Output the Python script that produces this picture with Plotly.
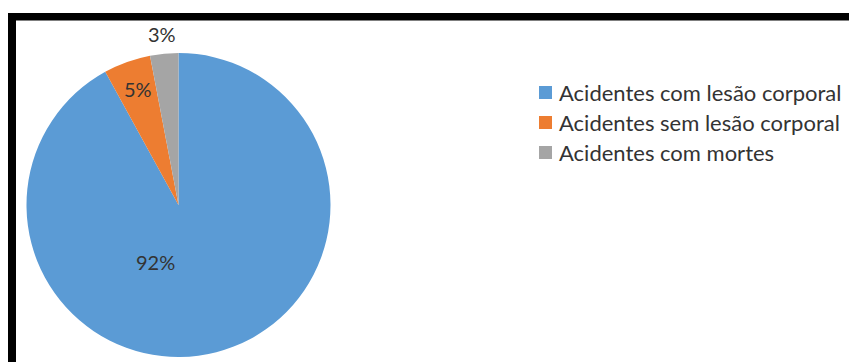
import plotly.graph_objects as go

# Accident categories and their share of the total (%)
categories = [
    "Acidentes com lesão corporal",
    "Acidentes sem lesão corporal",
    "Acidentes com mortes",
]
shares = [92, 5, 3]
colors = ["#5B9BD5", "#ED7D31", "#A5A5A5"]
# where each percentage label sits (pixel centre)
label_xy = [(155, 262), (137.5, 88.5), (162, 34)]

W, H = 849, 362
FONT = "Lato"
TEXT_COLOR = "#333333"


def px_x(x):
    return x / W


def px_y(y):
    return 1 - y / H


# pie circle: centre (178.5, 205), radius 152 (pixels)
cx, cy, r = 178.5, 205, 152

fig = go.Figure(
    go.Pie(
        labels=categories,
        values=shares,
        marker=dict(colors=colors, line=dict(width=0)),
        sort=False,
        direction="clockwise",
        rotation=0,
        textinfo="none",
        domain=dict(x=[px_x(cx - r), px_x(cx + r)], y=[px_y(cy + r), px_y(cy - r)]),
        showlegend=False,
        hoverinfo="label+percent",
    )
)

total = sum(shares)
shapes = []
annotations = []

# percentage labels
for v, (lx, ly) in zip(shares, label_xy):
    annotations.append(dict(
        xref="paper", yref="paper", x=px_x(lx), y=px_y(ly),
        xanchor="center", yanchor="middle", showarrow=False,
        text=f"{v / total * 100:.0f}%",
        font=dict(family=FONT, size=20, color=TEXT_COLOR),
    ))

# legend drawn as colour squares with labels
legend_x = 539
legend_y0 = 92.5
legend_step = 30
square = 13
for i, (name, col) in enumerate(zip(categories, colors)):
    yc = legend_y0 + i * legend_step
    shapes.append(dict(
        type="rect", xref="paper", yref="paper",
        x0=px_x(legend_x), x1=px_x(legend_x + square),
        y0=px_y(yc + square / 2), y1=px_y(yc - square / 2),
        fillcolor=col, line=dict(width=0),
    ))
    annotations.append(dict(
        xref="paper", yref="paper", x=px_x(legend_x + square + 5), y=px_y(yc),
        xanchor="left", yanchor="middle", showarrow=False,
        text=name, font=dict(family=FONT, size=22, color=TEXT_COLOR),
    ))

# black frame along the top and left edges
shapes.append(dict(type="rect", xref="paper", yref="paper",
                   x0=px_x(8), x1=1, y0=px_y(20.5), y1=px_y(13),
                   fillcolor="black", line=dict(width=0)))
shapes.append(dict(type="rect", xref="paper", yref="paper",
                   x0=px_x(8), x1=px_x(16), y0=0, y1=px_y(13),
                   fillcolor="black", line=dict(width=0)))

fig.update_layout(
    width=W, height=H,
    margin=dict(l=0, r=0, t=0, b=0),
    paper_bgcolor="white",
    plot_bgcolor="white",
    shapes=shapes,
    annotations=annotations,
)

fig.write_html("out.html")
